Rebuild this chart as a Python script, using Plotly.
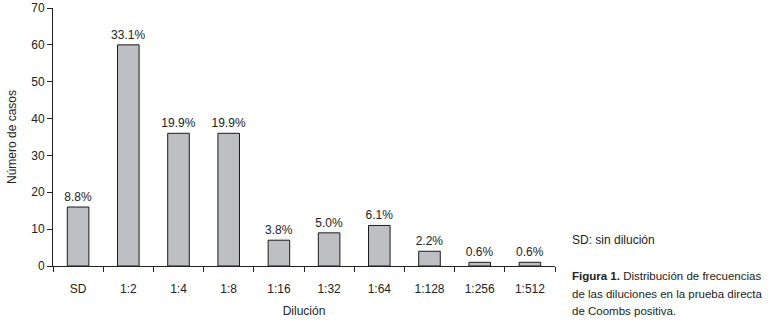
import plotly.graph_objects as go

categories = ["SD", "1:2", "1:4", "1:8", "1:16", "1:32", "1:64", "1:128", "1:256", "1:512"]
casos = [16, 60, 36, 36, 7, 9, 11, 4, 1, 1]
porcentajes = ["8.8%", "33.1%", "19.9%", "19.9%", "3.8%", "5.0%", "6.1%", "2.2%", "0.6%", "0.6%"]
nota = "SD: sin dilución"
leyenda = ["<b>Figura 1.</b> Distribución de frecuencias",
           "de las diluciones en la prueba directa",
           "de Coombs positiva."]

FONT = "Liberation Sans, Arial, sans-serif"

L, R, T, B = 53, 555, 8, 266  # plot area in page pixels
W, H = 780, 330


def px_x(x):
    return (x - L) / (R - L)


def px_y(y):
    return (B - y) / (B - T)


fig = go.Figure(go.Bar(
    x=categories, y=casos,
    text=porcentajes, textposition="outside",
    textfont=dict(family=FONT, size=12, color="#222"),
    marker=dict(color="#bebfc3", line=dict(color="#1a1a1a", width=1)),
    cliponaxis=False,
))

annotations = [dict(text=nota, xref="paper", yref="paper",
                    x=px_x(570), y=px_y(240), xanchor="left", yanchor="middle",
                    showarrow=False, font=dict(size=12))]
for i, line in enumerate(leyenda):
    annotations.append(dict(text=line, xref="paper", yref="paper",
                            x=px_x(570), y=px_y(276 + 17.5 * i), xanchor="left", yanchor="middle",
                            showarrow=False, font=dict(size=11.5)))

fig.update_layout(
    width=W, height=H,
    margin=dict(l=L, r=W - R, t=T, b=H - B, autoexpand=False),
    paper_bgcolor="white", plot_bgcolor="white",
    font=dict(family=FONT, size=12, color="#222"),
    bargap=0.57,
    uniformtext=dict(minsize=12, mode="show"),
    showlegend=False,
    xaxis=dict(
        type="category", tickson="boundaries", automargin=False,
        ticks="outside", ticklen=5, tickcolor="#222",
        showline=True, linecolor="#222", linewidth=1,
        showgrid=False, ticklabelstandoff=12,
        title=dict(text="Dilución", standoff=11, font=dict(size=12)),
        tickfont=dict(size=12),
    ),
    yaxis=dict(
        range=[0, 70], dtick=10, automargin=False,
        ticks="outside", ticklen=5, tickcolor="#222",
        showline=True, linecolor="#222", linewidth=1,
        showgrid=False, zeroline=False,
        title=dict(text="Número de casos", standoff=12, font=dict(size=12)),
        tickfont=dict(size=12),
    ),
    annotations=annotations,
)

fig.write_html("out.html", config={"displayModeBar": False},
               post_script="document.body.style.margin='0';")
